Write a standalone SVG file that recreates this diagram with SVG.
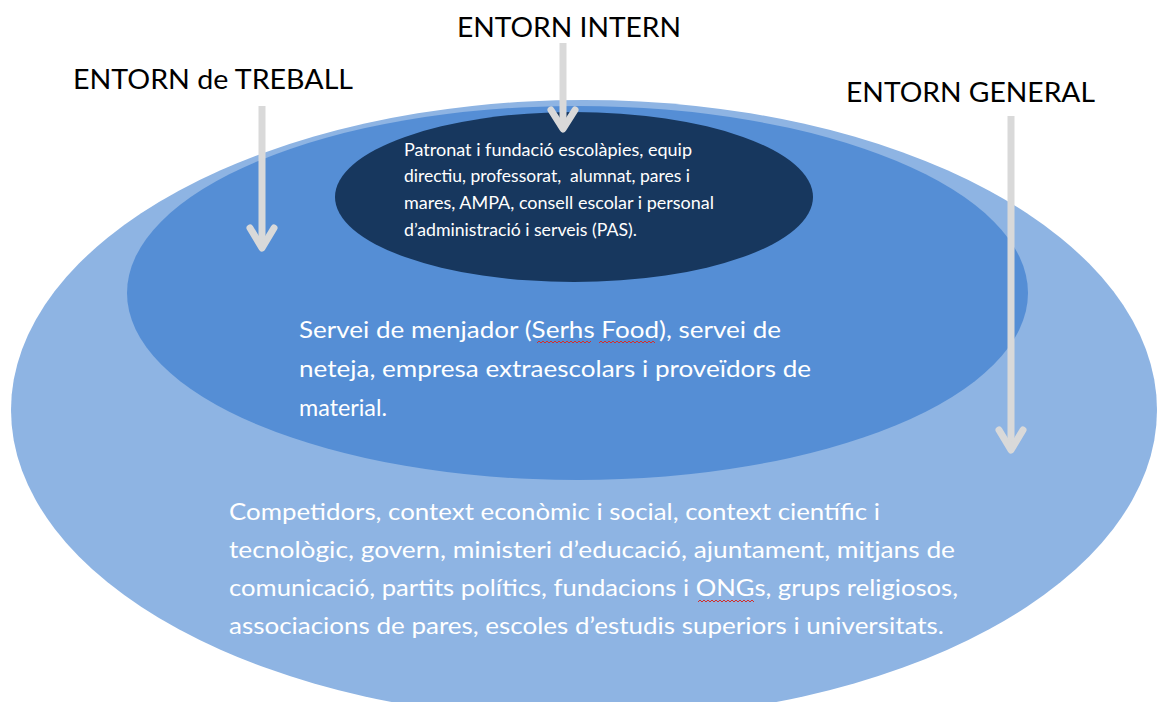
<svg xmlns="http://www.w3.org/2000/svg" width="1157" height="702" viewBox="0 0 1157 702">
<style>
.lbl{font-family:Lato,"Liberation Sans",sans-serif;font-size:27px;fill:#000}
.t{font-family:Lato,"Liberation Sans",sans-serif;fill:#fff;white-space:pre}
.ti{font-size:16.5px}
.tm{font-size:23px}
.to{font-size:23px}
.arr{fill:none;stroke:#d9d9d9;stroke-width:7;stroke-linejoin:round}
.arr .head{stroke-linecap:round}
.wave{fill:none;stroke:#d0312d;stroke-width:1}
</style>
<rect width="1157" height="702" fill="#fff"/>
<g id="entorn-general">
<ellipse cx="584" cy="410" rx="573" ry="310" fill="#8eb4e3"/>
</g>
<g id="entorn-treball">
<ellipse cx="577.5" cy="293" rx="450.5" ry="187" fill="#558ed5"/>
</g>
<g id="entorn-intern">
<ellipse cx="574" cy="197" rx="239" ry="85" fill="#17375e"/>
</g>
<g id="connectors" class="arr">
<line x1="563" y1="43" x2="563" y2="126"/>
<polyline class="head" points="551,110 563,129 575,110"/>
<line x1="262" y1="106" x2="262" y2="245"/>
<polyline class="head" points="250,228 262,248 274,228"/>
<line x1="1011" y1="116" x2="1011" y2="447"/>
<polyline class="head" points="999,430 1011,450 1023,430"/>
</g>
<g id="label-intern"><text class="lbl" x="457" y="37" textLength="224" lengthAdjust="spacingAndGlyphs">ENTORN INTERN</text></g>
<g id="label-treball"><text class="lbl" x="73" y="89" textLength="280" lengthAdjust="spacingAndGlyphs">ENTORN de TREBALL</text></g>
<g id="label-general"><text class="lbl" x="846" y="102" textLength="249" lengthAdjust="spacingAndGlyphs">ENTORN GENERAL</text></g>
<g id="text-intern" class="t ti">
<text x="404" y="156" textLength="288" lengthAdjust="spacingAndGlyphs">Patronat i fundació escolàpies, equip</text>
<text x="404" y="182" textLength="286" lengthAdjust="spacingAndGlyphs" xml:space="preserve">directiu, professorat,  alumnat, pares i</text>
<text x="404" y="209" textLength="310" lengthAdjust="spacingAndGlyphs">mares, AMPA, consell escolar i personal</text>
<text x="404" y="236" textLength="233" lengthAdjust="spacingAndGlyphs">d’administració i serveis (PAS).</text>
</g>
<g id="text-treball" class="t tm">
<text x="299" y="338" textLength="482" lengthAdjust="spacingAndGlyphs">Servei de menjador (Serhs Food), servei de</text>
<text x="299" y="377" textLength="512" lengthAdjust="spacingAndGlyphs">neteja, empresa extraescolars i proveïdors de</text>
<text x="299" y="416" textLength="88" lengthAdjust="spacingAndGlyphs">material.</text>
<path class="wave" d="M537,343 l2,-2 l2,2 l2,-2 l2,2 l2,-2 l2,2 l2,-2 l2,2 l2,-2 l2,2 l2,-2 l2,2 l2,-2 l2,2 l2,-2 l2,2 l2,-2 l2,2 l2,-2 l2,2 l2,-2 l2,2 l2,-2 l2,2 l2,-2 l2,2 l2,-2 M599,343 l2,-2 l2,2 l2,-2 l2,2 l2,-2 l2,2 l2,-2 l2,2 l2,-2 l2,2 l2,-2 l2,2 l2,-2 l2,2 l2,-2 l2,2 l2,-2 l2,2 l2,-2 l2,2 l2,-2 l2,2 l2,-2 l2,2 l2,-2 l2,2 l2,-2 l2,2"/>
</g>
<g id="text-general" class="t to">
<text x="229" y="520" textLength="651" lengthAdjust="spacingAndGlyphs">Competidors, context econòmic i social, context científic i</text>
<text x="229" y="558" textLength="726" lengthAdjust="spacingAndGlyphs">tecnològic, govern, ministeri d’educació, ajuntament, mitjans de</text>
<text x="229" y="596" textLength="729" lengthAdjust="spacingAndGlyphs">comunicació, partits polítics, fundacions i ONGs, grups religiosos,</text>
<text x="229" y="634" textLength="715" lengthAdjust="spacingAndGlyphs">associacions de pares, escoles d’estudis superiors i universitats.</text>
<path class="wave" d="M698,602 l2,-2 l2,2 l2,-2 l2,2 l2,-2 l2,2 l2,-2 l2,2 l2,-2 l2,2 l2,-2 l2,2 l2,-2 l2,2 l2,-2 l2,2 l2,-2 l2,2 l2,-2 l2,2 l2,-2 l2,2 l2,-2 l2,2 l2,-2 l2,2 l2,-2 l2,2"/>
</g>
</svg>
